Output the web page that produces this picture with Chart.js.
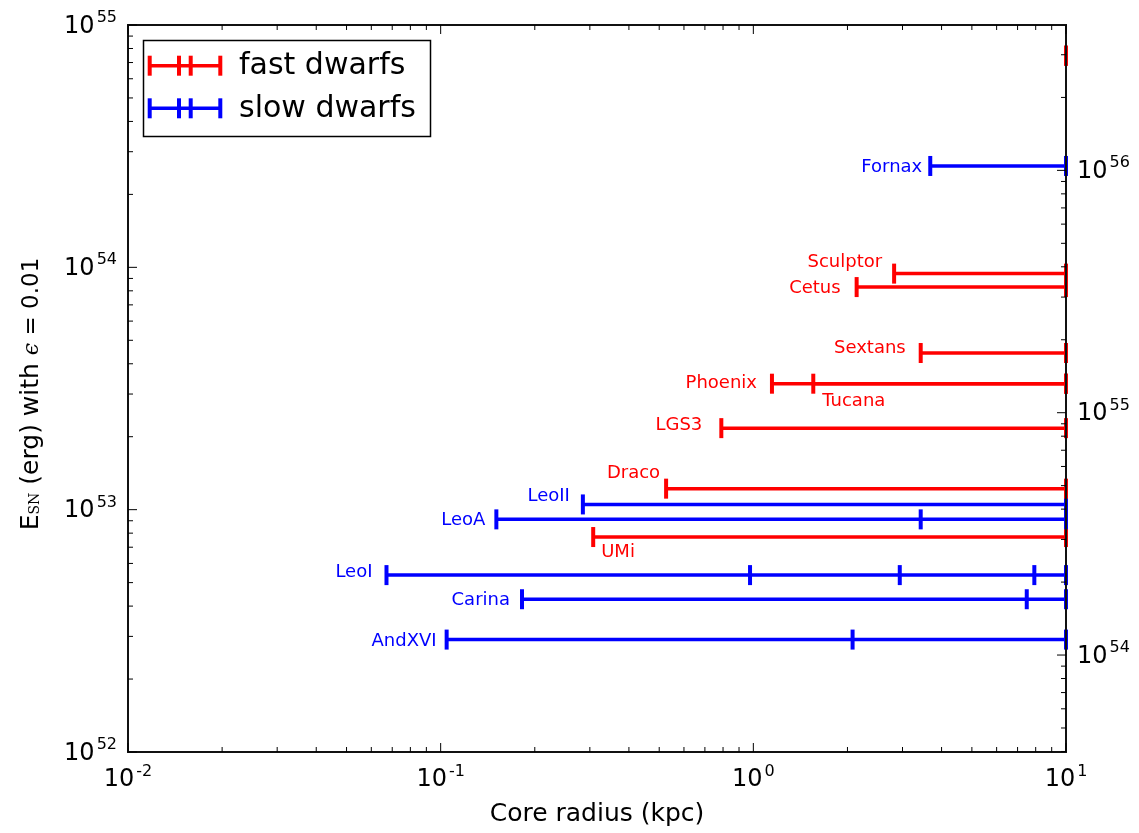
<!DOCTYPE html>
<html><head><meta charset="utf-8">
<script src="https://cdn.jsdelivr.net/npm/chart.js@4.4.0/dist/chart.umd.min.js"></script>
<style>html,body{margin:0;padding:0;background:#fff}#wrap{width:1139px;height:833px;position:relative}</style>
</head><body><div id="wrap"><canvas id="c" width="1139" height="833"></canvas></div>
<script>
// ---- data ----
const dwarfNames    = ['', 'Fornax', 'Sculptor', 'Cetus', 'Sextans', 'Phoenix', 'Tucana', 'LGS3', 'Draco', 'LeoII', 'LeoA', 'UMi', 'LeoI', 'Carina', 'AndXVI'];
const dwarfGroup    = ['fast', 'slow', 'fast', 'fast', 'fast', 'fast', 'fast', 'fast', 'fast', 'slow', 'slow', 'fast', 'slow', 'slow', 'slow'];
const energyErg     = [7.47e54, 2.62e54, 9.42e53, 8.29e53, 4.43e53, 3.31e53, 3.31e53, 2.17e53, 1.221e53, 1.051e53, 9.12e52, 7.71e52, 5.37e52, 4.27e52, 2.91e52];
const coreRadiusMin = [10, 3.68, 2.82, 2.14, 3.43, 1.147, 1.555, 0.790, 0.526, 0.285, 0.1507, 0.3075, 0.0671, 0.182, 0.1045];
const coreRadiusMax = [10, 10, 10, 10, 10, 10, 10, 10, 10, 10, 10, 10, 10, 10, 10];
const innerCaps     = [[], [], [], [], [], [], [], [], [], [], [3.43], [], [0.976, 2.94, 7.92], [7.49], [2.077]];

const xTicks = [0.01, 0.1, 1, 10];      const xTickExp = ['-2', '-1', '0', '1'];
const yTicks = [1e52, 1e53, 1e54, 1e55]; const yTickExp = ['52', '53', '54', '55'];
const y2Ticks = [1e54, 1e55, 1e56];      const y2TickExp = ['54', '55', '56'];
const y2Min = 3.98e53, y2Max = 3.98e56;

const legendLabels = ['fast dwarfs', 'slow dwarfs'];
const groupColor = { fast: '#ff0000', slow: '#0000ff' };

// label placement style: [side, dx, dy] relative to first cap (pixels)
const labelPlace = [null, ['L', -8, 1], ['L', -12, -11.5], ['L', -16, 1.5], ['L', -15, -5], ['L', -15, 0], ['R', 9, 18],
  ['L', -19, -2.5], ['L', -6, -15], ['L', -13, -8.5], ['L', -11, 1], ['R', 8, 15.5], ['L', -14, -3], ['L', -12, 1.5], ['L', -10, 2]];

// ---- datasets ----
const datasets = dwarfNames.map((n, i) => {
  const xs = [coreRadiusMin[i], ...innerCaps[i], coreRadiusMax[i]];
  const col = groupColor[dwarfGroup[i]];
  return {
    label: n || 'edge',
    data: xs.map(x => ({ x: x, y: energyErg[i] })),
    showLine: true,
    borderColor: col, backgroundColor: col,
    borderWidth: 3.5,
    pointStyle: 'line', rotation: 90,
    pointRadius: 10, pointHoverRadius: 10,
    pointBorderColor: col, pointBorderWidth: 4,
    clip: false, yAxisID: 'y'
  };
});

const FONT = '"DejaVu Sans", sans-serif';

function drawPow(ctx, exp, x, yc, align) {
  ctx.save();
  ctx.fillStyle = '#000';
  ctx.textBaseline = 'alphabetic';
  ctx.font = '24px ' + FONT;
  const wb = ctx.measureText('10').width;
  ctx.font = '16px ' + FONT;
  const we = ctx.measureText(exp).width + 2;
  const w = wb + we;
  let x0 = align === 'center' ? x - w / 2 : (align === 'right' ? x - w : x);
  const base = yc + 9;
  ctx.textAlign = 'left';
  ctx.font = '24px ' + FONT;
  ctx.fillText('10', x0, base);
  ctx.font = '16px ' + FONT;
  ctx.fillText(exp, x0 + wb + 2, base - 10.5);
  ctx.restore();
}

function minorTicks(majors, min, max) {
  const out = [];
  const e0 = Math.floor(Math.log10(min)) , e1 = Math.ceil(Math.log10(max));
  for (let e = e0; e <= e1; e++) for (let k = 2; k <= 9; k++) {
    const v = k * Math.pow(10, e);
    if (v > min * 1.0001 && v < max * 0.9999) out.push(v);
  }
  return out;
}

const decor = {
  id: 'decor',
  afterDatasetsDraw(chart) {
    const ctx = chart.ctx, a = chart.chartArea;
    const sx = chart.scales.x, sy = chart.scales.y, sy2 = chart.scales.y2;
    ctx.save();
    // frame
    ctx.strokeStyle = '#111'; ctx.lineWidth = 2;
    ctx.strokeRect(a.left, a.top, a.right - a.left, a.bottom - a.top);
    // ticks
    ctx.lineWidth = 1; ctx.strokeStyle = '#000';
    const MAJ = 9, MIN = 5;
    function vt(px, len) {
      ctx.beginPath(); ctx.moveTo(px, a.bottom); ctx.lineTo(px, a.bottom - len); ctx.stroke();
      ctx.beginPath(); ctx.moveTo(px, a.top); ctx.lineTo(px, a.top + len); ctx.stroke();
    }
    xTicks.forEach(v => vt(sx.getPixelForValue(v), MAJ));
    minorTicks(xTicks, 0.01, 10).forEach(v => vt(sx.getPixelForValue(v), MIN));
    function lt(py, len) { ctx.beginPath(); ctx.moveTo(a.left, py); ctx.lineTo(a.left + len, py); ctx.stroke(); }
    function rt(py, len) { ctx.beginPath(); ctx.moveTo(a.right, py); ctx.lineTo(a.right - len, py); ctx.stroke(); }
    yTicks.forEach(v => lt(sy.getPixelForValue(v), MAJ));
    minorTicks(yTicks, 1e52, 1e55).forEach(v => lt(sy.getPixelForValue(v), MIN));
    y2Ticks.forEach(v => rt(sy2.getPixelForValue(v), MAJ));
    minorTicks(y2Ticks, y2Min, y2Max).forEach(v => rt(sy2.getPixelForValue(v), MIN));
    // tick labels
    xTicks.forEach((v, i) => drawPow(ctx, xTickExp[i], sx.getPixelForValue(v), a.bottom + 25, 'center'));
    yTicks.forEach((v, i) => drawPow(ctx, yTickExp[i], a.left - 11, sy.getPixelForValue(v) - 1.5, 'right'));
    y2Ticks.forEach((v, i) => drawPow(ctx, y2TickExp[i], a.right + 11, sy2.getPixelForValue(v) - 1.5, 'left'));
    // x title
    ctx.fillStyle = '#000';
    ctx.font = '25px ' + FONT; ctx.textAlign = 'center'; ctx.textBaseline = 'alphabetic';
    ctx.fillText('Core radius (kpc)', (a.left + a.right) / 2, 821);
    // y title (rotated)
    ctx.save();
    ctx.translate(38, 394); ctx.rotate(-Math.PI / 2);
    const parts = [
      ['E', '25px ' + FONT, 0],
      ['SN', '14px "DejaVu Serif", serif', 1],
      [' (erg) with ', '25px ' + FONT, 0],
      ['\u03F5', 'italic 22px "DejaVu Serif", serif', 0],
      [' = ', '23px ' + FONT, 0],
      ['0.01', '23px ' + FONT, 0]
    ];
    let W = 0;
    parts.forEach(p => { ctx.font = p[1]; p.w = ctx.measureText(p[0]).width; W += p.w; });
    let cx = -W / 2;
    ctx.textAlign = 'left';
    parts.forEach(p => { ctx.font = p[1]; ctx.fillText(p[0], cx, p[2]); cx += p.w; });
    ctx.restore();
    // dwarf labels
    ctx.font = '18px ' + FONT; ctx.textBaseline = 'middle';
    dwarfNames.forEach((n, i) => {
      if (!n) return;
      const pt = chart.getDatasetMeta(i).data[0];
      const pl = labelPlace[i];
      ctx.fillStyle = groupColor[dwarfGroup[i]];
      ctx.textAlign = pl[0] === 'L' ? 'right' : 'left';
      ctx.fillText(n, pt.x + pl[1], pt.y + pl[2]);
    });
    // legend
    ctx.strokeStyle = '#000'; ctx.lineWidth = 1.5;
    ctx.strokeRect(143.5, 40.5, 287, 96);
    const ly = [65.7, 108.3];
    ['fast', 'slow'].forEach((g, j) => {
      const col = groupColor[g];
      ctx.strokeStyle = col; ctx.lineWidth = 3.5;
      ctx.beginPath(); ctx.moveTo(149.7, ly[j]); ctx.lineTo(220.3, ly[j]); ctx.stroke();
      ctx.lineWidth = 4;
      [149.7, 179, 190.7, 220.3].forEach(cxp => { ctx.beginPath(); ctx.moveTo(cxp, ly[j] - 10); ctx.lineTo(cxp, ly[j] + 10); ctx.stroke(); });
      ctx.fillStyle = '#000'; ctx.font = '30px ' + FONT; ctx.textAlign = 'left'; ctx.textBaseline = 'middle';
      ctx.fillText(legendLabels[j], 239, ly[j] + 1);
    });
    ctx.restore();
  }
};

const hidden = { ticks: { display: false }, grid: { display: false, drawTicks: false }, border: { display: false } };
new Chart(document.getElementById('c'), {
  type: 'scatter',
  data: { datasets: datasets },
  options: {
    responsive: false, animation: false, devicePixelRatio: 1,
    layout: { padding: { left: 128, right: 73, top: 25, bottom: 81 } },
    plugins: { legend: { display: false }, tooltip: { enabled: false } },
    events: [],
    scales: {
      x: Object.assign({ type: 'logarithmic', min: 0.01, max: 10, position: 'bottom' }, hidden),
      y: Object.assign({ type: 'logarithmic', min: 1e52, max: 1e55, position: 'left' }, hidden),
      y2: Object.assign({ type: 'logarithmic', min: y2Min, max: y2Max, position: 'right' }, hidden)
    }
  },
  plugins: [decor]
});
</script></body></html>
